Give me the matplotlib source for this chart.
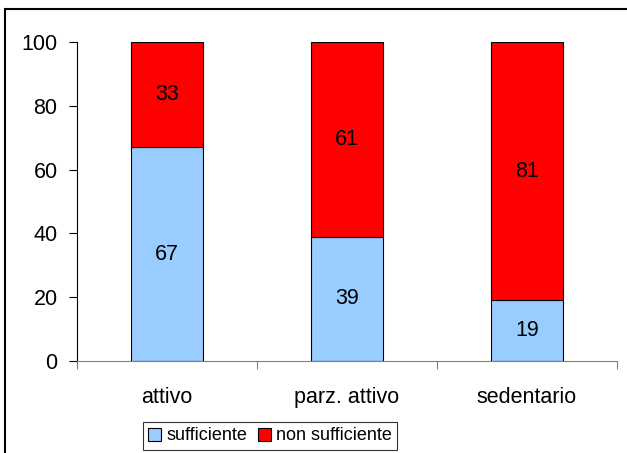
import matplotlib.pyplot as plt
from matplotlib.patches import Rectangle

plt.rcParams['font.family'] = ['Liberation Sans', 'DejaVu Sans']

categories = ['attivo', 'parz. attivo', 'sedentario']
sufficiente = [67, 39, 19]
non_sufficiente = [33, 61, 81]

fig = plt.figure(figsize=(6.27, 4.53), dpi=100)
ax = fig.add_axes([77 / 627, 1 - 361 / 453, 540 / 627, 319 / 453])

x = range(len(categories))
b1 = ax.bar(x, sufficiente, width=0.405, color='#99CCFF', edgecolor='black',
            linewidth=0.8, label='sufficiente')
b2 = ax.bar(x, non_sufficiente, width=0.405, bottom=sufficiente, color='#FF0000',
            edgecolor='black', linewidth=0.8, label='non sufficiente')
ax.bar_label(b1, label_type='center', fontsize=15.5)
ax.bar_label(b2, label_type='center', fontsize=15.5)

ax.set_xlim(-0.5, 2.5)
ax.set_ylim(0, 100)
ax.set_yticks(range(0, 101, 20))
ax.set_xticks([-0.5, 0.5, 1.5, 2.5])
ax.set_xticklabels([])
ax.set_xticks(list(x), minor=True)
ax.set_xticklabels(categories, minor=True, fontsize=15.5)
ax.tick_params(axis='x', which='minor', length=0, pad=19)
ax.tick_params(axis='x', which='major', length=6, color='#808080')
ax.tick_params(axis='y', length=6, labelsize=15.5, pad=8)
for s in ['top', 'right']:
    ax.spines[s].set_visible(False)
ax.spines['bottom'].set_color('#808080')
ax.spines['left'].set_color('black')

leg = fig.legend(loc='center', bbox_to_anchor=(270 / 627, 1 - 436 / 453), ncol=2,
                 fontsize=13, frameon=True, fancybox=False, edgecolor='black',
                 handlelength=0.7, handleheight=0.7, handletextpad=0.3,
                 columnspacing=0.6, borderpad=0.3)
leg.get_frame().set_linewidth(0.8)

fig.patches.append(Rectangle((5 / 627, -0.1), 1.2, 1 - 9 / 453 + 0.1, transform=fig.transFigure,
                             fill=False, edgecolor='black', linewidth=1.5, clip_on=False))

fig.savefig('out.png', dpi=100)
